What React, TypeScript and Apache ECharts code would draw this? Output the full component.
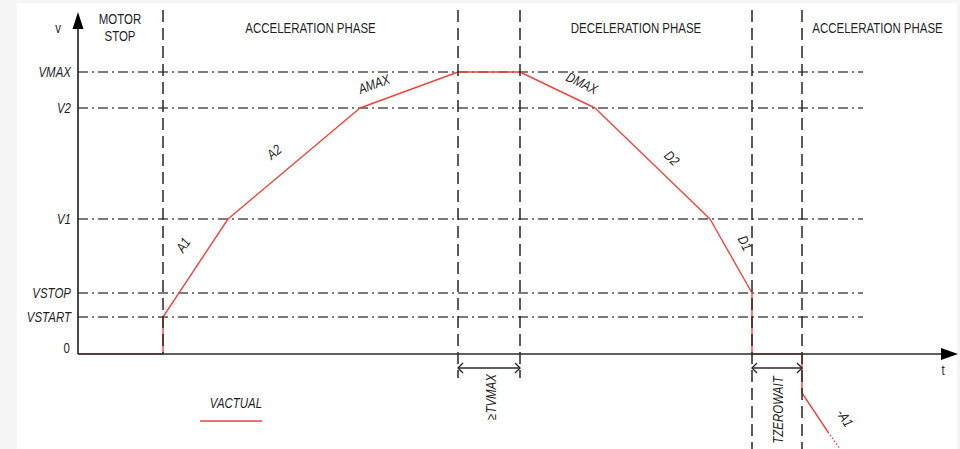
import React, { useEffect, useRef } from 'react';
import * as echarts from 'echarts';

// Velocity levels (value units along v)
const levelNames = ['VSTART', 'VSTOP', 'V1', 'V2', 'VMAX'];
const levelValues = [37, 61, 135, 246, 282];
const levelLineEnd = 785;

// Phase boundaries (time units along t)
const boundaryT = [85, 380, 442, 674, 724];
const boundaryTop = 344;
const boundaryBottom = [0, -24, -24, -95, -95];

// VACTUAL ramp profile
const profileT = [0, 85, 85, 150, 282, 380, 442, 517, 632, 674, 674, 724, 724, 750];
const profileV = [0, 0, 37, 135, 246, 282, 282, 246, 135, 61, 0, 0, -39, -78];
const tailT = [750, 762];
const tailV = [-78, -95];

// Ramp segment names along the profile
const segmentNames = ['A1', 'A2', 'AMAX', 'DMAX', 'D2', 'D1', '-A1'];
const segmentT = [105, 196, 296, 504, 594, 667, 767];
const segmentV = [109, 202, 270, 271, 196, 111, -64];
const segmentAngle = [56, 40, 20, -26, -44, -62, -58];

// Phase headings
const phaseTitles = ['MOTOR\nSTOP', 'ACCELERATION PHASE', 'DECELERATION PHASE', 'ACCELERATION PHASE'];
const phaseTitleT = [42, 232.5, 558, 799.5];
const phaseTitleV = 326;

// Timed spans below the t axis
const spanNames = ['≥TVMAX', 'TZEROWAIT'];
const spanFrom = [380, 674];
const spanTo = [442, 724];
const spanArrowV = -14;
const spanLabelT = [413, 700];
const spanLabelV = [-43, -56];

const axisTMax = 880;
const axisVMax = 342;

const RED = '#e8473f';
const INK = '#1f1f1f';
const FONT = "'Liberation Sans', Arial, sans-serif";
const NARROW = 0.82;

function textEl(x: number, y: number, text: string, opts: any = {}) {
  return {
    type: 'text',
    x,
    y,
    rotation: opts.rotation || 0,
    scaleX: NARROW,
    style: {
      text,
      fill: INK,
      fontFamily: FONT,
      fontSize: opts.fontSize || 14,
      fontStyle: opts.italic ? 'italic' : 'normal',
      align: opts.align || 'center',
      verticalAlign: 'middle',
      lineHeight: 17,
    },
  };
}

export default function App() {
  const ref = useRef<HTMLDivElement>(null);

  useEffect(() => {
    if (!ref.current) return;
    const chart = echarts.init(ref.current, null, { renderer: 'svg' });

    const option: any = {
      animation: false,
      backgroundColor: '#f5f5f5',
      grid: { left: 78, top: 0, right: 0, bottom: 0, containLabel: false, outerBoundsMode: 'none' },
      xAxis: { type: 'value', min: 0, max: 882, show: false },
      yAxis: { type: 'value', min: -95, max: 354, show: false },
      graphic: [
        { type: 'rect', z: -10, shape: { x: 17, y: 3, width: 940, height: 446 }, style: { fill: '#ffffff' } },
        {
          type: 'text',
          x: 236,
          y: 403,
          scaleX: NARROW,
          style: {
            text: 'VACTUAL',
            fill: INK,
            fontFamily: FONT,
            fontSize: 14,
            fontStyle: 'italic',
            align: 'center',
            verticalAlign: 'middle',
          },
        },
        { type: 'line', shape: { x1: 200, y1: 421, x2: 262, y2: 421 }, style: { stroke: RED, lineWidth: 1.6 } },
      ],
      series: [
        // Dash-dot velocity levels with their names
        {
          type: 'custom',
          z: 2,
          clip: false,
          data: levelValues.map((v) => [0, v]),
          encode: { x: 0, y: 1 },
          renderItem: (params: any, api: any) => {
            const v = api.value(1);
            const p0 = api.coord([0, v]);
            const p1 = api.coord([levelLineEnd, v]);
            return {
              type: 'group',
              children: [
                {
                  type: 'line',
                  shape: { x1: p0[0], y1: p0[1], x2: p1[0], y2: p1[1] },
                  style: { stroke: '#505050', lineWidth: 1.4, lineDash: [10, 4, 2, 4] },
                },
                textEl(p0[0] - 7, p0[1], levelNames[params.dataIndex], { align: 'right', italic: true }),
              ],
            };
          },
        },
        // Dashed phase boundaries
        {
          type: 'custom',
          z: 4,
          clip: false,
          data: boundaryT.map((t, i) => [t, boundaryBottom[i]]),
          encode: { x: 0, y: 1 },
          renderItem: (params: any, api: any) => {
            const t = api.value(0);
            const top = api.coord([t, boundaryTop]);
            const bottom = api.coord([t, api.value(1)]);
            return {
              type: 'line',
              shape: { x1: top[0], y1: top[1], x2: bottom[0], y2: bottom[1] },
              style: { stroke: '#262626', lineWidth: 1.5, lineDash: [12, 6] },
            };
          },
        },
        // VACTUAL
        {
          type: 'line',
          name: 'VACTUAL',
          z: 3,
          symbol: 'none',
          data: profileT.map((t, i) => [t, profileV[i]]),
          lineStyle: { color: RED, width: 1.4 },
        },
        {
          type: 'line',
          z: 3,
          symbol: 'none',
          data: tailT.map((t, i) => [t, tailV[i]]),
          lineStyle: { color: RED, width: 1.4, type: [1.5, 2] },
        },
        // Axes with arrow heads
        {
          type: 'custom',
          z: 5,
          clip: false,
          data: [[0, 0]],
          encode: { x: 0, y: 1 },
          renderItem: (params: any, api: any) => {
            const o = api.coord([0, 0]);
            const vTip = api.coord([0, axisVMax]);
            const tTip = api.coord([axisTMax, 0]);
            return {
              type: 'group',
              children: [
                {
                  type: 'line',
                  shape: { x1: o[0], y1: o[1], x2: vTip[0], y2: vTip[1] + 10 },
                  style: { stroke: '#2a2a2a', lineWidth: 1.7 },
                },
                {
                  type: 'line',
                  shape: { x1: o[0], y1: o[1], x2: tTip[0] - 10, y2: tTip[1] },
                  style: { stroke: '#2a2a2a', lineWidth: 1.7 },
                },
                {
                  type: 'polygon',
                  shape: { points: [[vTip[0], vTip[1]], [vTip[0] - 5.5, vTip[1] + 17], [vTip[0] + 5.5, vTip[1] + 17]] },
                  style: { fill: '#000' },
                },
                {
                  type: 'polygon',
                  shape: { points: [[tTip[0], tTip[1]], [tTip[0] - 17, tTip[1] - 6], [tTip[0] - 17, tTip[1] + 6]] },
                  style: { fill: '#000' },
                },
                textEl(vTip[0] - 20, vTip[1] + 16, 'v'),
                textEl(tTip[0] - 15, tTip[1] + 16, 't'),
                textEl(o[0] - 8, o[1] - 6, '0', { align: 'right' }),
              ],
            };
          },
        },
        // Segment names along the ramp
        {
          type: 'custom',
          z: 6,
          clip: false,
          data: segmentT.map((t, i) => [t, segmentV[i]]),
          encode: { x: 0, y: 1 },
          renderItem: (params: any, api: any) => {
            const p = api.coord([api.value(0), api.value(1)]);
            const i = params.dataIndex;
            return textEl(p[0], p[1], segmentNames[i], {
              italic: true,
              rotation: (segmentAngle[i] * Math.PI) / 180,
            });
          },
        },
        // Phase headings
        {
          type: 'custom',
          z: 6,
          clip: false,
          data: phaseTitleT.map((t) => [t, phaseTitleV]),
          encode: { x: 0, y: 1 },
          renderItem: (params: any, api: any) => {
            const p = api.coord([api.value(0), api.value(1)]);
            return textEl(p[0], p[1], phaseTitles[params.dataIndex]);
          },
        },
        // Timed spans with double arrows
        {
          type: 'custom',
          z: 6,
          clip: false,
          data: spanFrom.map((t) => [t, spanArrowV]),
          encode: { x: 0, y: 1 },
          renderItem: (params: any, api: any) => {
            const i = params.dataIndex;
            const a = api.coord([spanFrom[i], spanArrowV]);
            const b = api.coord([spanTo[i], spanArrowV]);
            const l = api.coord([spanLabelT[i], spanLabelV[i]]);
            const stroke = { stroke: '#2a2a2a', lineWidth: 1.4, fill: null };
            return {
              type: 'group',
              children: [
                { type: 'line', shape: { x1: a[0], y1: a[1], x2: b[0], y2: b[1] }, style: stroke },
                {
                  type: 'polyline',
                  shape: { points: [[a[0] + 5, a[1] - 5], [a[0], a[1]], [a[0] + 5, a[1] + 5]] },
                  style: stroke,
                },
                {
                  type: 'polyline',
                  shape: { points: [[b[0] - 5, b[1] - 5], [b[0], b[1]], [b[0] - 5, b[1] + 5]] },
                  style: stroke,
                },
                textEl(l[0], l[1], spanNames[i], { italic: true, rotation: Math.PI / 2 }),
              ],
            };
          },
        },
      ],
    };

    chart.setOption(option);
    return () => chart.dispose();
  }, []);

  return <div ref={ref} style={{ position: 'fixed', left: 0, top: 0, width: 960, height: 449 }} />;
}
